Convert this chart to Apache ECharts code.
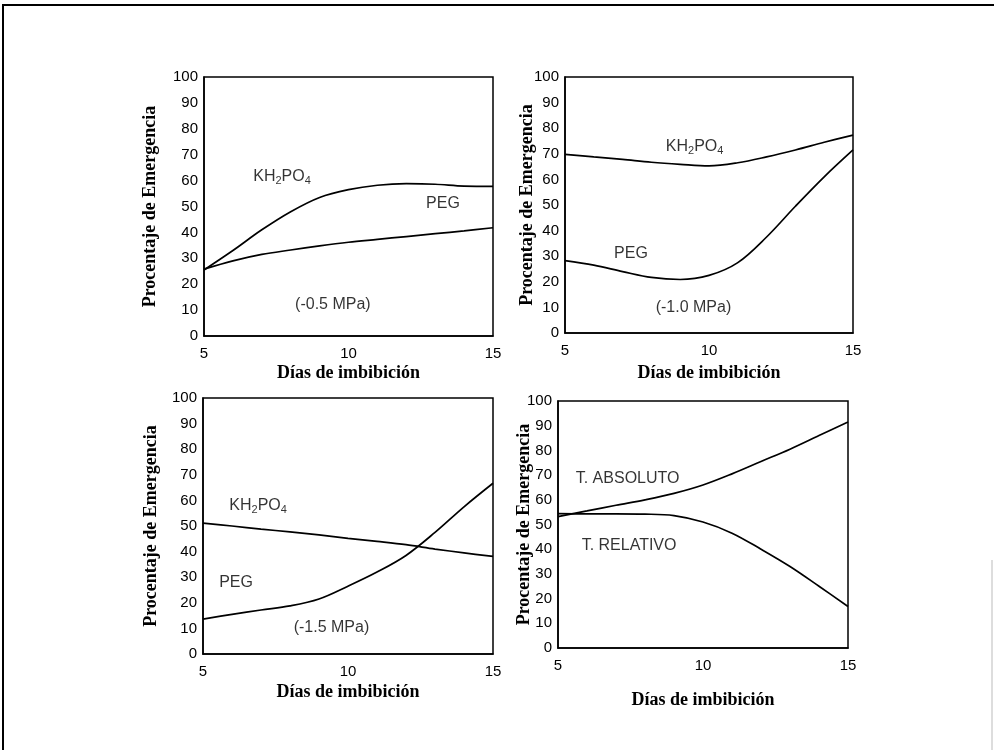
<!DOCTYPE html>
<html>
<head>
<meta charset="utf-8">
<script src="https://cdn.jsdelivr.net/npm/echarts@6/dist/echarts.min.js"></script>
<style>
html,body{margin:0;padding:0;background:#fff;}
#c{width:994px;height:750px;}
</style>
</head>
<body>
<div id="c"></div>
<script>
// ---- data ----
var days = [5, 6, 7, 8, 9, 10, 11, 12, 13, 14, 15];
var xTicks = [5, 10, 15];
var yTicks = [0, 10, 20, 30, 40, 50, 60, 70, 80, 90, 100];

var p1_KH2PO4 = [25.5, 33, 41, 48, 53.5, 56.5, 58.2, 58.8, 58.6, 57.9, 57.8];
var p1_PEG    = [25.8, 29, 31.5, 33.2, 34.8, 36.2, 37.3, 38.4, 39.5, 40.6, 41.8];

var p2_KH2PO4 = [69.8, 68.8, 67.8, 66.7, 65.9, 65.3, 66.5, 68.8, 71.5, 74.5, 77.3];
var p2_PEG    = [28.3, 26.5, 24, 21.7, 20.9, 22.5, 27.5, 37.5, 49.5, 61, 71.5];

var p3_KH2PO4 = [51.1, 50, 48.8, 47.7, 46.5, 45.2, 44, 42.7, 41, 39.5, 38.1];
var p3_PEG    = [13.6, 15.5, 17.2, 18.8, 21.5, 26.5, 32, 38.5, 47.5, 57.5, 66.7];

var p4_ABS    = [53.2, 55.5, 57.8, 60, 62.6, 66, 70.5, 75.5, 80.5, 86, 91.5];
var p4_REL    = [54.4, 54.3, 54.3, 54.2, 53.6, 51, 46.5, 40, 33, 25, 16.8];

var xTitle = 'Días de imbibición';
var yTitle = 'Procentaje de Emergencia';

// annotation texts (placed in data coordinates)
var notes = [
  [{t:'{n|KH}{s|2}{n|PO}{s|4}', x:7.7, y:61.4}, {t:'{n|PEG}', x:13.27, y:51.3}, {t:'{n|(-0.5 MPa)}', x:9.46, y:12}],
  [{t:'{n|KH}{s|2}{n|PO}{s|4}', x:9.5, y:72.7}, {t:'{n|PEG}', x:7.29, y:31.2}, {t:'{n|(-1.0 MPa)}', x:9.46, y:9.8}],
  [{t:'{n|KH}{s|2}{n|PO}{s|4}', x:6.9, y:57.8}, {t:'{n|PEG}', x:6.14, y:28}, {t:'{n|(-1.5 MPa)}', x:9.43, y:10.5}],
  [{t:'{n|T. ABSOLUTO}', x:7.4, y:68.4}, {t:'{n|T. RELATIVO}', x:7.45, y:41.3}]
];

var panels = [
  {series:[p1_KH2PO4, p1_PEG], grid:{left:204, top:77, width:289, height:259}, xGap:28, yGap:45},
  {series:[p2_KH2PO4, p2_PEG], grid:{left:565, top:77, width:288, height:256}, xGap:31, yGap:29},
  {series:[p3_KH2PO4, p3_PEG], grid:{left:203, top:398, width:290, height:256}, xGap:29, yGap:43},
  {series:[p4_ABS, p4_REL],    grid:{left:558, top:401, width:290, height:247}, xGap:43, yGap:25}
];

var sans = 'Liberation Sans, Arial, sans-serif';
var serif = 'Liberation Serif, Times New Roman, serif';

var option = {animation:false, backgroundColor:'#fff', grid:[], xAxis:[], yAxis:[], series:[],
  graphic:[
    {type:'line', shape:{x1:2, y1:5, x2:994, y2:5}, style:{stroke:'#000', lineWidth:2}},
    {type:'line', shape:{x1:3, y1:5, x2:3, y2:750}, style:{stroke:'#000', lineWidth:2}},
    {type:'line', shape:{x1:992, y1:560, x2:992, y2:750}, style:{stroke:'#bbb', lineWidth:1}}
  ]};

panels.forEach(function(p, i){
  option.grid.push(Object.assign({show:true, borderColor:'#000', borderWidth:1.5, backgroundColor:'transparent'}, p.grid));
  option.xAxis.push({type:'value', gridIndex:i, min:xTicks[0], max:xTicks[xTicks.length-1], interval:5,
    axisLine:{show:true, lineStyle:{color:'#000', width:1.5}}, axisTick:{show:false}, splitLine:{show:false},
    axisLabel:{color:'#000', fontFamily:sans, fontSize:15, margin:10},
    name:xTitle, nameLocation:'middle', nameGap:p.xGap, nameMoveOverlap:false,
    nameTextStyle:{color:'#000', fontFamily:serif, fontWeight:'bold', fontSize:18}});
  option.yAxis.push({type:'value', gridIndex:i, min:yTicks[0], max:yTicks[yTicks.length-1], interval:10,
    axisLine:{show:true, lineStyle:{color:'#000', width:1.5}}, axisTick:{show:false}, splitLine:{show:false},
    axisLabel:{color:'#000', fontFamily:sans, fontSize:15, margin:6},
    name:yTitle, nameLocation:'middle', nameGap:p.yGap, nameMoveOverlap:false,
    nameTextStyle:{color:'#000', fontFamily:serif, fontWeight:'bold', fontSize:18}});
  p.series.forEach(function(vals){
    option.series.push({type:'line', xAxisIndex:i, yAxisIndex:i, smooth:0.35, symbol:'none',
      lineStyle:{color:'#000', width:1.7},
      data: days.map(function(d, k){ return [d, vals[k]]; })});
  });
  option.series.push({type:'scatter', xAxisIndex:i, yAxisIndex:i, symbolSize:0, silent:true,
    data: notes[i].map(function(n){ return {value:[n.x, n.y], name:n.t}; }),
    label:{show:true, position:'inside', color:'#000', formatter:function(pr){ return pr.name; },
      rich:{
        n:{fontFamily:sans, fontSize:16, color:'#000', lineHeight:19},
        s:{fontFamily:sans, fontSize:11, color:'#000', lineHeight:11, verticalAlign:'bottom'}
      }}});
});

var chart = echarts.init(document.getElementById('c'), null, {renderer:'canvas'});
chart.setOption(option);
</script>
</body>
</html>
